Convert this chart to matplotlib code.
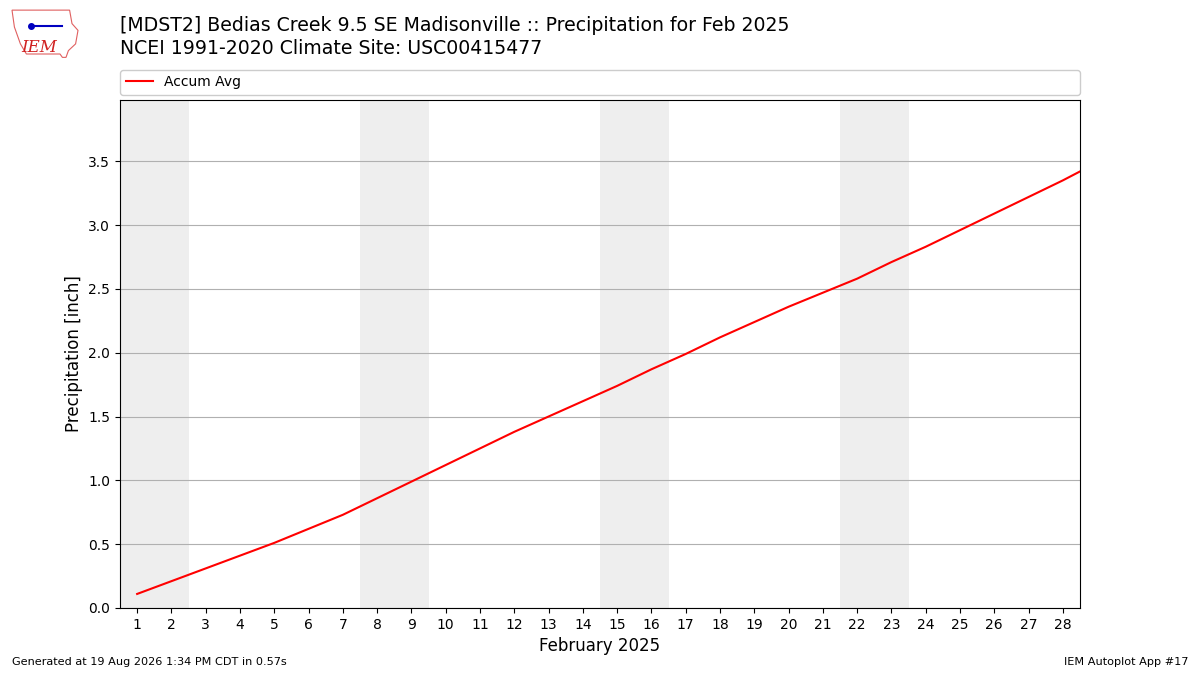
import numpy as np
import matplotlib
matplotlib.use("Agg")
import matplotlib.pyplot as plt
from matplotlib.patches import Polygon

# day of month (29 = Mar 1, drawn past the right edge and clipped)
days = [1, 2, 3, 4, 5, 6, 7, 8, 9, 10, 11, 12, 13, 14, 15,
        16, 17, 18, 19, 20, 21, 22, 23, 24, 25, 26, 27, 28, 29]
accum_avg = [0.11, 0.21, 0.31, 0.41, 0.51, 0.62, 0.73, 0.86, 0.99, 1.12,
             1.25, 1.38, 1.50, 1.62, 1.74, 1.87, 1.99, 2.12, 2.24, 2.36,
             2.47, 2.58, 2.71, 2.83, 2.96, 3.09, 3.22, 3.35, 3.49]
weekends = [1, 8, 15, 22]  # first day of each Sat/Sun pair

title = ("[MDST2] Bedias Creek 9.5 SE Madisonville :: Precipitation for Feb 2025\n"
         "NCEI 1991-2020 Climate Site: USC00415477")

fig = plt.figure(figsize=(12, 6.75), dpi=100)
ax = fig.add_axes([0.1, 0.0993, 0.8, 0.7526])

for d in weekends:
    ax.axvspan(d - 0.5, d + 1.5, color="#eeeeee", zorder=0, lw=0)

ax.plot(days, accum_avg, color="red", lw=1.5, label="Accum Avg", zorder=3)

ax.set_xlim(0.5, 28.5)
ax.set_ylim(0, 3.98)
ax.set_xticks(range(1, 29))
ax.set_yticks(np.arange(0, 3.51, 0.5))
ax.yaxis.grid(True, color="#b0b0b0", lw=0.8)
ax.set_axisbelow(True)
ax.tick_params(labelsize=10)
ax.set_ylabel("Precipitation [inch]", fontsize=12)
ax.set_xlabel("February 2025", fontsize=12)

ax.legend(loc="lower left", bbox_to_anchor=(0, 1.01, 1, 0.05), mode="expand",
          ncol=1, fontsize=10, borderaxespad=0, framealpha=1)

fig.text(0.1, 0.977, title, fontsize=13.6, va="top", ha="left", linespacing=1.3)
fig.text(0.01, 0.015, "Generated at 19 Aug 2026 1:34 PM CDT in 0.57s", fontsize=8.1)
fig.text(0.99, 0.015, "IEM Autoplot App #17", fontsize=8.1, ha="right")

# rough IEM logo
outline = [(0.010, 0.985), (0.058, 0.985), (0.060, 0.965), (0.065, 0.955),
           (0.063, 0.935), (0.057, 0.925), (0.055, 0.915), (0.052, 0.915),
           (0.050, 0.920), (0.022, 0.920), (0.017, 0.935), (0.012, 0.960)]
fig.patches.append(Polygon(outline, closed=True, fill=False, ec="#e06060",
                           lw=0.8, transform=fig.transFigure, figure=fig))
fig.text(0.018, 0.923, "IEM", color="#d02020", fontsize=12, family="DejaVu Serif",
         style="italic")
fig.lines.append(plt.Line2D([0.026, 0.052], [0.962, 0.962], color="#0000c0", lw=1.5,
                            transform=fig.transFigure))
fig.lines.append(plt.Line2D([0.026], [0.962], color="#0000c0", marker="o", ms=4,
                            transform=fig.transFigure))

fig.savefig("out.png", dpi=100)
